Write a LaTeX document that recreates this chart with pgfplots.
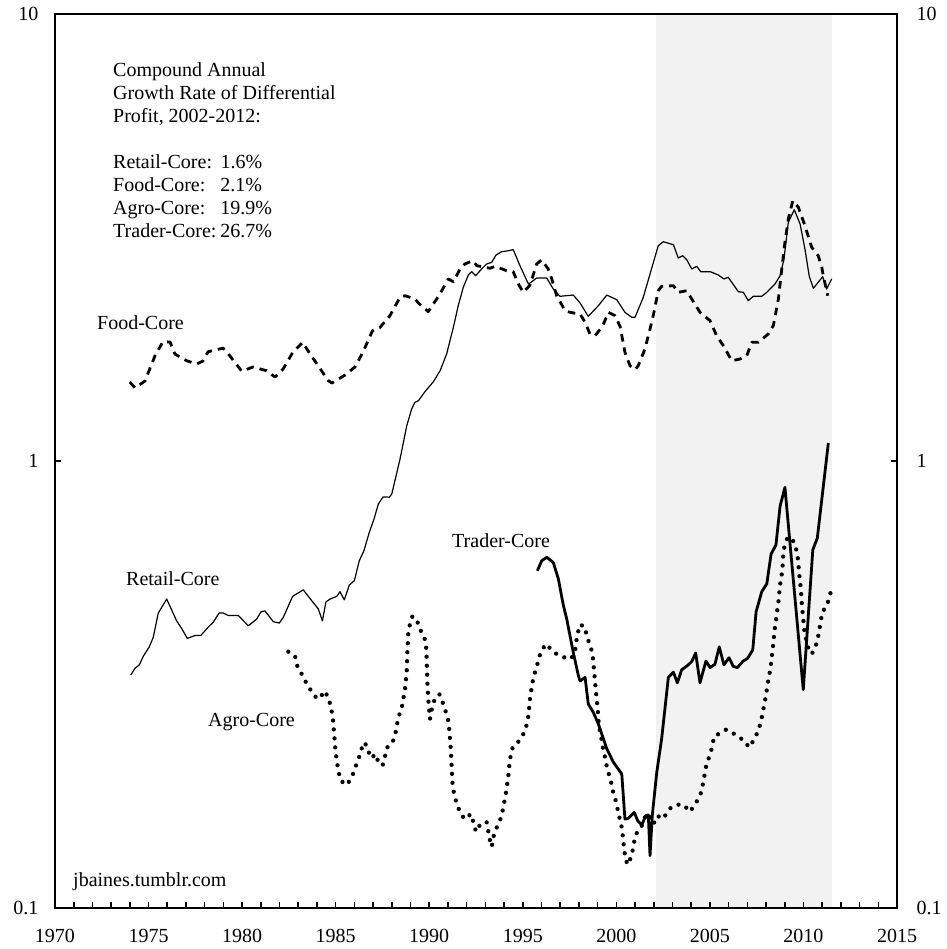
\documentclass[border=0pt]{standalone}
\usepackage{fontspec}
\setmainfont{Liberation Serif}
\usepackage{pgfplots}
\pgfplotsset{compat=1.18}
\definecolor{shade}{HTML}{F2F2F2}
\newcommand{\txt}{\fontsize{20}{23}\selectfont}
\begin{document}
\begin{tikzpicture}
\begin{axis}[
  name=main,
  scale only axis, width=842pt, height=894pt,
  xmin=1970, xmax=2015, ymode=log, ymin=0.1, ymax=10,
  axis on top,
  axis line style={line width=2.2pt},
  xtick={1970,1975,...,2015},
  xticklabels={1970,1975,1980,1985,1990,1995,2000,2005,2010,2015},
  minor x tick num=4,
  xtick pos=left,
  ytick={0.1,1,10}, yticklabels={0.1,1,10},
  ytick pos=both, yticklabel pos=left,
  minor y tick style={draw=none},
  tick align=inside,
  major tick length=6pt, minor tick length=6pt,
  tick style={line width=1.6pt, black},
  ticklabel style={font=\txt},
  xticklabel style={yshift=-18pt},
  yticklabel style={xshift=-13pt},
]
% shaded period
\addplot[draw=none, fill=shade] coordinates {(2002.1,0.1) (2002.1,10) (2011.55,10) (2011.55,0.1)} --cycle;

% Retail-Core
\addplot[line width=1.2pt, line join=round] coordinates {
(1974.05,0.332) (1974.28,0.344) (1974.51,0.350) (1974.72,0.366) (1975.04,0.384) (1975.25,0.403) (1975.52,0.457) (1975.97,0.491) (1976.50,0.439) (1976.77,0.422) (1977.07,0.401) (1977.48,0.407) (1977.79,0.407) (1978.19,0.425) (1978.46,0.436) (1978.77,0.457) (1979.00,0.457) (1979.26,0.451) (1979.80,0.451) (1980.33,0.428) (1980.78,0.443) (1981.01,0.460) (1981.22,0.462) (1981.67,0.437) (1981.99,0.434) (1982.20,0.447) (1982.70,0.498) (1983.27,0.515) (1983.72,0.487) (1984.07,0.467) (1984.29,0.439) (1984.48,0.484) (1984.70,0.491) (1985.06,0.498) (1985.23,0.510) (1985.46,0.489) (1985.73,0.528) (1986.00,0.540) (1986.26,0.598) (1986.51,0.630) (1986.80,0.693) (1987.05,0.742) (1987.28,0.801) (1987.53,0.831) (1987.87,0.830) (1988.00,0.844) (1988.44,1.010) (1988.80,1.199) (1989.06,1.307) (1989.24,1.353) (1989.42,1.364) (1989.77,1.429) (1990.22,1.504) (1990.58,1.592) (1990.93,1.735) (1991.29,1.991) (1991.55,2.226) (1991.82,2.446) (1992.09,2.607) (1992.27,2.652) (1992.48,2.597) (1992.80,2.689) (1993.07,2.759) (1993.34,2.783) (1993.57,2.890) (1993.87,2.939) (1994.23,2.954) (1994.49,2.970) (1994.85,2.735) (1995.30,2.489) (1995.48,2.518) (1995.74,2.567) (1996.28,2.567) (1996.63,2.425) (1996.99,2.336) (1997.70,2.351) (1998.06,2.257) (1998.50,2.107) (1999.04,2.226) (1999.49,2.351) (2000.02,2.296) (2000.46,2.151) (2000.82,2.097) (2001.00,2.097) (2001.44,2.324) (2001.80,2.620) (2002.24,3.031) (2002.51,3.094) (2003.05,3.047) (2003.31,2.845) (2003.55,2.879) (2003.76,2.820) (2004.03,2.689) (2004.30,2.726) (2004.51,2.652) (2005.01,2.652) (2005.45,2.607) (2005.75,2.554) (2005.98,2.576) (2006.52,2.392) (2006.79,2.384) (2007.05,2.284) (2007.32,2.336) (2007.77,2.336) (2008.04,2.384) (2008.48,2.489) (2008.75,2.597) (2008.96,2.831) (2009.19,3.420) (2009.51,3.649) (2009.82,3.390) (2010.08,2.980) (2010.31,2.589) (2010.53,2.434) (2011.03,2.584) (2011.24,2.425) (2011.51,2.554)
};

% Food-Core
\addplot[line width=2.8pt, dash pattern=on 7.5pt off 6pt, line join=round] coordinates {
(1974.00,1.502) (1974.28,1.457) (1974.81,1.510) (1975.34,1.718) (1975.77,1.849) (1976.15,1.846) (1976.41,1.735) (1977.04,1.676) (1977.57,1.648) (1977.91,1.674) (1978.18,1.756) (1978.64,1.774) (1978.98,1.789) (1979.35,1.718) (1979.98,1.588) (1980.58,1.623) (1981.31,1.592) (1981.76,1.541) (1982.19,1.606) (1982.72,1.753) (1983.24,1.843) (1983.52,1.765) (1984.06,1.634) (1984.61,1.512) (1984.80,1.494) (1985.50,1.557) (1986.03,1.623) (1986.46,1.753) (1986.97,1.957) (1987.37,1.991) (1987.90,2.114) (1988.44,2.324) (1988.71,2.343) (1989.24,2.304) (1989.42,2.257) (1989.95,2.158) (1990.04,2.188) (1990.40,2.304) (1990.67,2.404) (1991.02,2.554) (1991.29,2.518) (1991.65,2.689) (1991.91,2.759) (1992.32,2.806) (1992.54,2.735) (1993.25,2.699) (1993.52,2.726) (1994.14,2.665) (1994.49,2.652) (1994.76,2.489) (1995.03,2.384) (1995.39,2.476) (1995.74,2.759) (1996.01,2.817) (1996.36,2.689) (1996.55,2.554) (1996.81,2.343) (1997.26,2.169) (1997.52,2.151) (1998.06,2.132) (1998.33,2.043) (1998.59,1.924) (1998.86,1.907) (1999.22,1.991) (1999.39,2.060) (1999.57,2.151) (1999.93,2.114) (2000.20,2.000) (2000.46,1.751) (2000.73,1.634) (2001.00,1.601) (2001.17,1.634) (2001.53,1.781) (2001.80,1.974) (2002.01,2.151) (2002.24,2.404) (2002.42,2.459) (2003.05,2.467) (2003.31,2.384) (2003.76,2.404) (2004.03,2.304) (2004.47,2.151) (2005.01,2.060) (2005.36,1.907) (2005.72,1.811) (2006.17,1.676) (2006.61,1.691) (2006.97,1.720) (2007.24,1.843) (2007.59,1.843) (2008.12,1.924) (2008.39,2.008) (2008.66,2.304) (2008.84,2.689) (2009.01,3.085) (2009.19,3.478) (2009.43,3.822) (2009.73,3.694) (2010.08,3.360) (2010.44,3.007) (2010.79,2.879) (2010.98,2.713) (2011.06,2.597) (2011.30,2.343)
};

% Agro-Core
\addplot[line width=4.3pt, line cap=round, line join=round, dash pattern=on 0pt off 9pt] coordinates {
(1982.47,0.3745) (1982.83,0.366) (1982.95,0.348) (1983.18,0.334) (1983.41,0.320) (1983.67,0.307) (1983.99,0.2945) (1984.16,0.2945) (1984.39,0.306) (1984.61,0.296) (1984.73,0.283) (1984.84,0.269) (1984.92,0.245) (1985.00,0.223) (1985.14,0.203) (1985.27,0.1927) (1985.59,0.1885) (1985.86,0.196) (1986.03,0.2054) (1986.21,0.2147) (1986.35,0.2248) (1986.51,0.2347) (1986.66,0.2307) (1986.80,0.2211) (1986.93,0.2163) (1987.10,0.2211) (1987.28,0.2126) (1987.51,0.2082) (1987.76,0.2288) (1988.00,0.2328) (1988.17,0.2429) (1988.35,0.267) (1988.53,0.280) (1988.71,0.309) (1988.80,0.340) (1988.83,0.373) (1988.88,0.410) (1988.97,0.432) (1989.10,0.449) (1989.33,0.443) (1989.47,0.422) (1989.72,0.407) (1989.83,0.386) (1989.87,0.3545) (1989.90,0.320) (1989.95,0.2935) (1990.04,0.2647) (1990.13,0.2778) (1990.27,0.291) (1990.54,0.301) (1990.72,0.2885) (1990.88,0.275) (1991.02,0.2624) (1991.07,0.2506) (1991.15,0.2277) (1991.20,0.2065) (1991.25,0.1878) (1991.34,0.179) (1991.47,0.171) (1991.65,0.1637) (1991.88,0.1581) (1992.23,0.1623) (1992.36,0.1555) (1992.50,0.1482) (1992.77,0.155) (1993.07,0.1555) (1993.16,0.1482) (1993.25,0.1415) (1993.34,0.1371) (1993.42,0.1439) (1993.57,0.1502) (1993.78,0.1568) (1993.91,0.1642) (1994.01,0.1724) (1994.10,0.1809) (1994.17,0.1894) (1994.23,0.1984) (1994.28,0.2082) (1994.35,0.2192) (1994.46,0.2288) (1994.76,0.2355) (1995.03,0.245) (1995.21,0.257) (1995.30,0.269) (1995.35,0.2835) (1995.39,0.296) (1995.48,0.3117) (1995.56,0.3265) (1995.69,0.341) (1995.83,0.357) (1995.96,0.3745) (1996.24,0.3897) (1996.46,0.381) (1996.72,0.372) (1997.08,0.365) (1997.56,0.3606) (1997.79,0.373) (1997.84,0.3916) (1997.94,0.410) (1998.02,0.4297) (1998.27,0.428) (1998.42,0.408) (1998.56,0.3897) (1998.72,0.373) (1998.77,0.3556) (1998.81,0.3396) (1998.86,0.3225) (1998.90,0.3078) (1998.95,0.2935) (1999.00,0.2798) (1999.07,0.255) (1999.18,0.2429) (1999.25,0.2315) (1999.36,0.2211) (1999.45,0.2108) (1999.57,0.2012) (1999.70,0.1927) (1999.81,0.183) (2000.02,0.171) (2000.11,0.1623) (2000.25,0.155) (2000.32,0.1477) (2000.43,0.1343) (2000.50,0.1282) (2000.61,0.125) (2000.82,0.1309) (2000.91,0.1374) (2001.00,0.1439) (2001.17,0.1497) (2001.36,0.1528) (2001.53,0.1596) (2001.75,0.1623) (2001.98,0.1541) (2002.21,0.1609) (2002.42,0.1581) (2002.64,0.1615) (2002.92,0.168) (2003.31,0.1703) (2003.58,0.1703) (2003.94,0.1642) (2004.17,0.170) (2004.42,0.1762) (2004.56,0.183) (2004.65,0.1917) (2004.74,0.2012) (2004.83,0.2111) (2005.01,0.220) (2005.13,0.2307) (2005.22,0.2416) (2005.54,0.2463) (2005.86,0.2506) (2006.13,0.248) (2006.43,0.2429) (2006.84,0.2367) (2007.09,0.2288) (2007.36,0.2379) (2007.56,0.248) (2007.72,0.2602) (2007.82,0.2731) (2007.91,0.286) (2008.00,0.2996) (2008.07,0.3143) (2008.16,0.330) (2008.25,0.3455) (2008.30,0.3624) (2008.36,0.381) (2008.41,0.3996) (2008.46,0.4195) (2008.53,0.4392) (2008.59,0.460) (2008.66,0.483) (2008.71,0.5066) (2008.76,0.531) (2008.84,0.558) (2008.89,0.5855) (2008.92,0.614) (2008.98,0.643) (2009.14,0.673) (2009.37,0.673) (2009.55,0.649) (2009.67,0.619) (2009.73,0.591) (2009.76,0.5637) (2009.82,0.537) (2009.87,0.5127) (2009.90,0.487) (2009.94,0.465) (2009.99,0.443) (2010.03,0.422) (2010.12,0.403) (2010.23,0.384) (2010.44,0.370) (2010.62,0.381) (2010.76,0.3996) (2010.85,0.4195) (2011.01,0.460) (2011.24,0.473) (2011.38,0.4955) (2011.51,0.519)
};

% Trader-Core
\addplot[line width=2.8pt, line join=round] coordinates {
(1995.78,0.568) (1996.01,0.598) (1996.28,0.609) (1996.63,0.593) (1996.90,0.545) (1997.17,0.475) (1997.35,0.443) (1997.52,0.407) (1997.70,0.373) (1997.97,0.331) (1998.06,0.322) (1998.33,0.328) (1998.50,0.286) (1998.77,0.274) (1999.04,0.258) (1999.49,0.227) (1999.84,0.212) (2000.29,0.1995) (2000.46,0.1581) (2000.64,0.1587) (2000.96,0.1637) (2001.14,0.1568) (2001.36,0.1533) (2001.57,0.1609) (2001.71,0.1615) (2001.80,0.1309) (2001.92,0.1609) (2002.16,0.2012) (2002.42,0.2388) (2002.78,0.328) (2003.05,0.337) (2003.26,0.319) (2003.49,0.341) (2003.85,0.350) (2004.03,0.356) (2004.24,0.372) (2004.47,0.319) (2004.79,0.357) (2005.01,0.345) (2005.27,0.351) (2005.50,0.384) (2005.75,0.350) (2006.02,0.363) (2006.25,0.347) (2006.47,0.345) (2006.75,0.356) (2007.02,0.362) (2007.29,0.378) (2007.47,0.460) (2007.77,0.510) (2008.04,0.531) (2008.27,0.619) (2008.53,0.649) (2008.75,0.792) (2009.01,0.873) (2009.99,0.308) (2010.50,0.633) (2010.74,0.672) (2011.33,1.097)
};

% labels
\node[anchor=north west, inner sep=0pt, font=\txt] at (axis cs:1973.10,7.884) {%
\begin{tabular}{@{}l@{\hspace{4pt}}l@{}}
\multicolumn{2}{@{}l@{}}{Compound Annual}\\
\multicolumn{2}{@{}l@{}}{Growth Rate of Differential}\\
\multicolumn{2}{@{}l@{}}{Profit, 2002-2012:}\\[23pt]
Retail-Core: & 1.6\%\\
Food-Core: & 2.1\%\\
Agro-Core: & 19.9\%\\
Trader-Core: & 26.7\%
\end{tabular}};
\node[anchor=base west, inner sep=0pt, font=\txt] at (axis cs:1972.245,1.974) {Food-Core};
\node[anchor=base west, inner sep=0pt, font=\txt] at (axis cs:1973.795,0.5253) {Retail-Core};
\node[anchor=base west, inner sep=0pt, font=\txt] at (axis cs:1978.177,0.2547) {Agro-Core};
\node[anchor=base west, inner sep=0pt, font=\txt] at (axis cs:1991.217,0.6405) {Trader-Core};
\node[anchor=base west, inner sep=0pt, font=\txt] at (axis cs:1970.962,0.1120) {jbaines.tumblr.com};
\end{axis}

% right-hand tick labels
\begin{axis}[
  scale only axis, width=842pt, height=894pt,
  xmin=1970, xmax=2015, ymode=log, ymin=0.1, ymax=10,
  axis line style={draw=none},
  xtick=\empty,
  ytick={0.1,1,10}, yticklabels={0.1,1,10},
  yticklabel pos=right,
  major tick length=0pt,
  minor y tick style={draw=none},
  ticklabel style={font=\txt},
  yticklabel style={xshift=16pt},
]
\addplot[draw=none] coordinates {(1980,1)};
\end{axis}

\pgfresetboundingbox
\path[use as bounding box] ([shift={(-55pt,-41pt)}]main.south west) rectangle ([shift={(49pt,14pt)}]main.north east);
\end{tikzpicture}
\end{document}
